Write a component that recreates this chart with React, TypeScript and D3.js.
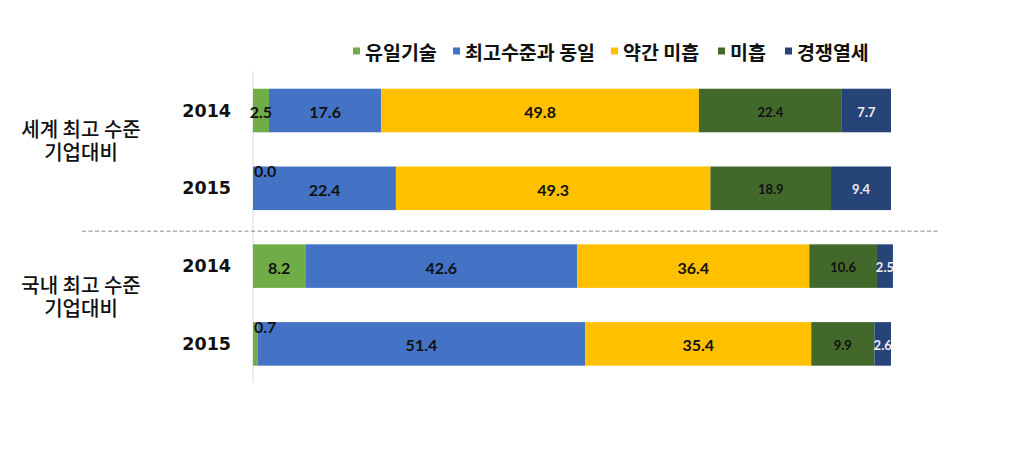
import React from "react";
import * as d3 from "d3";

// rows of the chart (top to bottom)
const rowKeys = ["world-2014", "world-2015", "domestic-2014", "domestic-2015"];
const years = ["2014", "2015", "2014", "2015"];
const groupLines = [
  ["세계 최고 수준", "기업대비"],
  ["국내 최고 수준", "기업대비"],
];

const seriesNames = ["유일기술", "최고수준과 동일", "약간 미흡", "미흡", "경쟁열세"];
const unique = [2.5, 0.0, 8.2, 0.7];
const sameAsBest = [17.6, 22.4, 42.6, 51.4];
const slightlyBehind = [49.8, 49.3, 36.4, 35.4];
const behind = [22.4, 18.9, 10.6, 9.9];
const inferior = [7.7, 9.4, 2.5, 2.6];
const seriesValues = [unique, sameAsBest, slightlyBehind, behind, inferior];

const colors = ["#70AD47", "#4472C4", "#FFC000", "#43682B", "#264478"];
const labelColors = ["#111", "#111", "#111", "#111", "#eeeeee"];
const labelSizes = [16, 16, 16, 13, 13];

const W = 1023, H = 453;
const legendX = [353, 453, 611, 718, 785];

const x = d3.scaleLinear().domain([0, 100]).range([253, 891]);
const y = d3.scaleBand<string>().domain(rowKeys).range([71.6, 382.8]).paddingInner(0.44).paddingOuter(0.22);

const stacked = rowKeys.map((k, i) => {
  let acc = 0;
  return seriesValues.map((vals, s) => {
    const v = vals[i];
    const seg = { key: k, s, v, x0: acc, x1: acc + v };
    acc += v;
    return seg;
  });
});

export default function App() {
  const bw = y.bandwidth();
  const sepY = ((y(rowKeys[1])! + bw) + y(rowKeys[2])!) / 2 + 4;
  return (
    <svg width={W} height={H} style={{ position: "absolute", left: 0, top: 0, background: "#fff" }}>
      {/* legend */}
      <g fontFamily="'Noto Sans CJK KR'" fontWeight={700} fontSize={19.5}>
        {seriesNames.map((n, i) => (
          <g key={n} transform={`translate(${legendX[i]},51)`}>
            <rect x={0} y={-3.5} width={7} height={7} fill={colors[i]} />
            <text x={12} y={0} dominantBaseline="central" fill="#111">{n}</text>
          </g>
        ))}
      </g>

      {/* axis line */}
      <line x1={x(0)} x2={x(0)} y1={y.range()[0]} y2={y.range()[1]} stroke="#d9d9d9" strokeWidth={1} />

      {/* separator */}
      <line x1={82} x2={938} y1={sepY} y2={sepY} stroke="#8c8c8c" strokeWidth={1} strokeDasharray="4,2.5" />

      {/* bars */}
      {stacked.map((row) =>
        row.map((d) => (
          <rect key={d.key + d.s} x={x(d.x0)} y={y(d.key)!} width={x(d.x1) - x(d.x0)} height={bw} fill={colors[d.s]} />
        ))
      )}

      {/* labels */}
      <g fontFamily="Lato, 'Open Sans', sans-serif" fontWeight={700}>
        {stacked.map((row) =>
          row.map((d) => {
            const small = d.v < 1;
            const tx = small ? x(d.x0) + 1 : (x(d.x0) + x(d.x1)) / 2;
            const ty = small ? y(d.key)! + 4 : y(d.key)! + bw / 2 + 1;
            return (
              <text key={"l" + d.key + d.s} x={tx} y={ty} textAnchor={small ? "start" : "middle"}
                dominantBaseline="central" fontSize={labelSizes[d.s]} fill={labelColors[d.s]}>
                {d.v.toFixed(1)}
              </text>
            );
          })
        )}
      </g>

      {/* year labels */}
      <g fontFamily="'DejaVu Sans'" fontWeight={700} fontSize={17.5} fill="#111">
        {rowKeys.map((k, i) => (
          <text key={k} x={231} y={y(k)! + bw / 2} textAnchor="end" dominantBaseline="central">{years[i]}</text>
        ))}
      </g>

      {/* group labels (two lines in one text) */}
      <g fontFamily="'Noto Sans CJK KR'" fontWeight={500} fontSize={20} fill="#111" textAnchor="middle">
        {groupLines.map((lines, g) => {
          const c = (y(rowKeys[g * 2])! + y(rowKeys[g * 2 + 1])! + bw) / 2;
          return (
            <text key={g} x={81} y={c - 21} dominantBaseline="central">
              {lines.map((t, j) => (
                <tspan key={j} x={81} dy={j === 0 ? 0 : 23}>{t}</tspan>
              ))}
            </text>
          );
        })}
      </g>
    </svg>
  );
}
